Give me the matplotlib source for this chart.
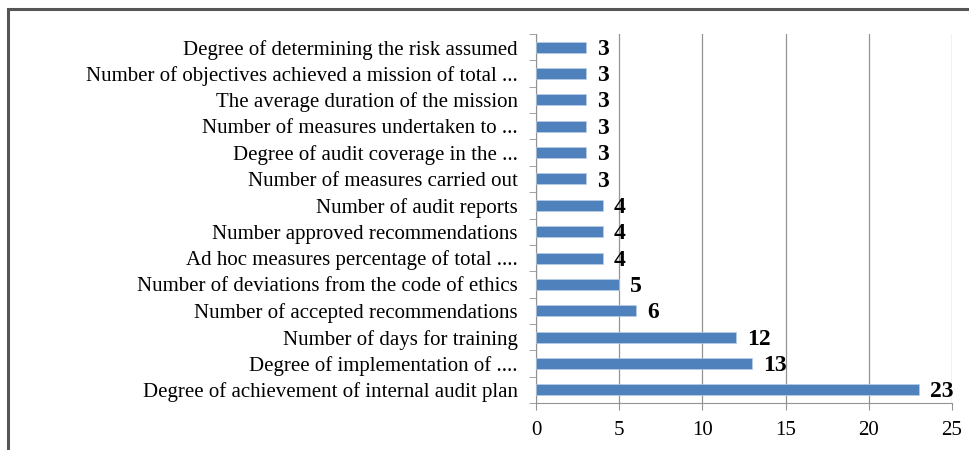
import matplotlib.pyplot as plt
from matplotlib.lines import Line2D
from matplotlib.ticker import FixedLocator

# ── Data (top to bottom as shown) ──────────────────────────────────────────────
labels = [
    "Degree of determining the risk assumed",
    "Number of objectives achieved a mission of total ...",
    "The average duration of the mission",
    "Number of measures undertaken to ...",
    "Degree of audit coverage in the ...",
    "Number of measures carried out",
    "Number of audit reports",
    "Number approved recommendations",
    "Ad hoc measures percentage of total ....",
    "Number of deviations from the code of ethics",
    "Number of accepted recommendations",
    "Number of days for training",
    "Degree of implementation of ....",
    "Degree of achievement of internal audit plan",
]
values = [3, 3, 3, 3, 3, 3, 4, 4, 4, 5, 6, 12, 13, 23]
x_ticks = [0, 5, 10, 15, 20, 25]

BAR_COLOR = "#4F81BD"
GRID_COLOR = "#939393"

plt.rcParams["font.family"] = ["Liberation Serif", "DejaVu Serif"]

fig = plt.figure(figsize=(9.7, 4.5), dpi=100)
ax = fig.add_axes([536 / 970, 1 - 403 / 450, 416 / 970, 369 / 450])

pos = list(range(len(labels)))
ax.barh(pos, values, height=0.42, color=BAR_COLOR, edgecolor="#B9CDE5", linewidth=0.5, zorder=3)

for y, v in zip(pos, values):
    ax.annotate(str(v), (v, y), xytext=(8, -1.5), textcoords="offset points",
                ha="left", va="center", fontsize=17, fontweight="bold", zorder=4)

ax.set_xlim(0, 25)
ax.set_ylim(len(labels) - 0.5, -0.5)
ax.set_xticks(x_ticks)
ax.set_yticks(pos)
ax.set_yticklabels(labels, fontsize=15)
ax.tick_params(axis="x", labelsize=15, length=5, color=GRID_COLOR, pad=8)
ax.tick_params(axis="y", which="major", length=0, pad=13)
ax.yaxis.set_minor_locator(FixedLocator([i - 0.5 for i in range(len(labels) + 1)]))
ax.tick_params(axis="y", which="minor", length=5, color=GRID_COLOR)

ax.grid(axis="x", color=GRID_COLOR, linewidth=0.9, zorder=0)
ax.spines[["top", "right"]].set_visible(False)
ax.spines["left"].set_color(GRID_COLOR)
ax.spines["bottom"].set_color(GRID_COLOR)

# ── Marco exterior recortado ───────────────────────────────────────────────────
fx, fy = 8 / 970, 1 - 9 / 450
fig.add_artist(Line2D([fx, fx], [0, fy], color="#555555", linewidth=2.2, transform=fig.transFigure))
fig.add_artist(Line2D([fx, 1], [fy, fy], color="#555555", linewidth=2.2, transform=fig.transFigure))

fig.savefig("out.png", dpi=100)
